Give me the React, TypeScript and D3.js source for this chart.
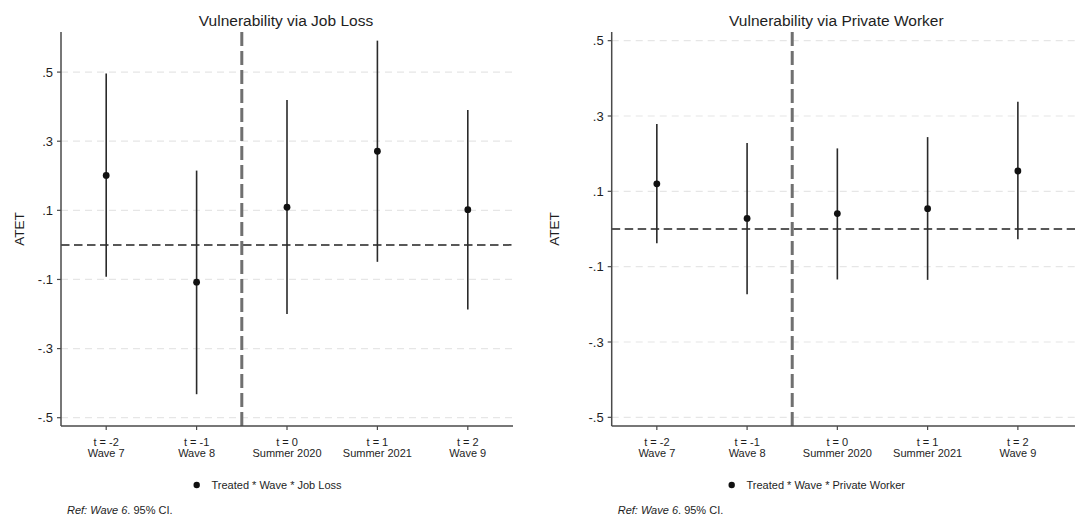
import React from "react";
import * as d3 from "d3";

// Event-study estimates (ATET) with 95% confidence intervals
const periods = ["t = -2", "t = -1", "t = 0", "t = 1", "t = 2"];
const waves = ["Wave 7", "Wave 8", "Summer 2020", "Summer 2021", "Wave 9"];
const yTicks = [-0.5, -0.3, -0.1, 0.1, 0.3, 0.5];

const jobLossEst = [0.201, -0.108, 0.109, 0.271, 0.102];
const jobLossLo = [-0.092, -0.432, -0.2, -0.049, -0.187];
const jobLossHi = [0.496, 0.215, 0.419, 0.591, 0.39];

const privateEst = [0.12, 0.028, 0.041, 0.054, 0.154];
const privateLo = [-0.038, -0.173, -0.134, -0.135, -0.027];
const privateHi = [0.279, 0.228, 0.214, 0.244, 0.338];

type Panel = {
  title: string;
  legend: string;
  est: number[];
  lo: number[];
  hi: number[];
  yDomain: [number, number];
  left: number; // y-axis position
  right: number; // end of 5.5 on the x scale
  lineEnd: number; // where the axis/grid lines stop
  offset: number;
};

const panels: Panel[] = [
  {
    title: "Vulnerability via Job Loss",
    legend: "Treated * Wave * Job Loss",
    est: jobLossEst,
    lo: jobLossLo,
    hi: jobLossHi,
    yDomain: [-0.524, 0.616],
    left: 61,
    right: 513,
    lineEnd: 513,
    offset: 0,
  },
  {
    title: "Vulnerability via Private Worker",
    legend: "Treated * Wave * Private Worker",
    est: privateEst,
    lo: privateLo,
    hi: privateHi,
    yDomain: [-0.523, 0.523],
    left: 611.7,
    right: 1063,
    lineEnd: 1075,
    offset: 535,
  },
];

const TOP = 32;
const BOTTOM = 426;
const FONT = "'Liberation Sans', Arial, sans-serif";
// Stata-style tick labels: no leading zero, ASCII hyphen for negatives
const fmt = (v: number) => {
  const body = Math.abs(v).toFixed(1).replace(/^0\./, ".");
  return (v < 0 ? "-" : "") + body;
};

function ChartPanel({ p }: { p: Panel }) {
  const x = d3.scaleLinear().domain([0.5, 5.5]).range([p.left, p.right]);
  const y = d3.scaleLinear().domain(p.yDomain).range([BOTTOM, TOP]);
  const cx = (p.left + p.right) / 2 - 1;
  return (
    <g fontFamily={FONT}>
      <text x={cx} y={26} textAnchor="middle" fontSize={15.5} fill="#1e1e1e">
        {p.title}
      </text>
      {/* grid */}
      {yTicks.map((t) => (
        <line
          key={"g" + t}
          x1={p.left}
          x2={p.lineEnd}
          y1={y(t)}
          y2={y(t)}
          stroke="#e6e6e6"
          strokeWidth={1.2}
          strokeDasharray="7,5"
        />
      ))}
      {/* reference lines */}
      <line
        x1={p.left}
        x2={p.lineEnd}
        y1={y(0)}
        y2={y(0)}
        stroke="#222"
        strokeWidth={1.5}
        strokeDasharray="8.5,4.5"
      />
      <line
        x1={x(2.5)}
        x2={x(2.5)}
        y1={TOP}
        y2={BOTTOM}
        stroke="#707070"
        strokeWidth={3}
        strokeDasharray="14,5"
      />
      {/* confidence intervals and point estimates */}
      {p.est.map((v, i) => (
        <g key={"m" + i}>
          <line
            x1={x(i + 1)}
            x2={x(i + 1)}
            y1={y(p.lo[i])}
            y2={y(p.hi[i])}
            stroke="#2a2a2a"
            strokeWidth={1.6}
          />
          <circle cx={x(i + 1)} cy={y(v)} r={3.4} fill="#111" />
        </g>
      ))}
      {/* axes */}
      <line x1={p.left} x2={p.left} y1={TOP} y2={BOTTOM} stroke="#4a4a4a" strokeWidth={1.5} />
      <line x1={p.left} x2={p.lineEnd} y1={BOTTOM} y2={BOTTOM} stroke="#4a4a4a" strokeWidth={1.5} />
      {yTicks.map((t) => (
        <g key={"yt" + t}>
          <line x1={p.left - 4} x2={p.left} y1={y(t)} y2={y(t)} stroke="#4a4a4a" strokeWidth={1.2} />
          <text
            x={p.left - 8}
            y={y(t)}
            dy="0.35em"
            textAnchor="end"
            fontSize={13}
            fill="#1e1e1e"
          >
            {fmt(t)}
          </text>
        </g>
      ))}
      <text
        transform={`translate(${p.offset + 24},${(TOP + BOTTOM) / 2}) rotate(-90)`}
        textAnchor="middle"
        fontSize={13.5}
        fill="#1e1e1e"
      >
        ATET
      </text>
      {periods.map((lab, i) => (
        <g key={"xt" + i}>
          <line
            x1={x(i + 1)}
            x2={x(i + 1)}
            y1={BOTTOM}
            y2={BOTTOM + 4}
            stroke="#4a4a4a"
            strokeWidth={1.2}
          />
          <text x={x(i + 1)} y={445.5} textAnchor="middle" fontSize={11} fill="#1e1e1e">
            {lab}
          </text>
          <text x={x(i + 1)} y={456.5} textAnchor="middle" fontSize={11} fill="#1e1e1e">
            {waves[i]}
          </text>
        </g>
      ))}
      {/* legend */}
      <circle cx={p.offset + 196.7} cy={485} r={3.2} fill="#111" />
      <text x={p.offset + 211.5} y={489} fontSize={11} fill="#1e1e1e">
        {p.legend}
      </text>
      {/* note */}
      <text x={p.left + 6} y={514} fontSize={11} fill="#1e1e1e">
        <tspan fontStyle="italic">Ref: Wave 6</tspan>
        <tspan>. 95% CI.</tspan>
      </text>
    </g>
  );
}

export default function App() {
  return (
    <svg
      width={1075}
      height={516}
      style={{ position: "absolute", left: 0, top: 0, background: "#fff" }}
    >
      <rect width={1075} height={516} fill="#fff" />
      {panels.map((p) => (
        <ChartPanel key={p.title} p={p} />
      ))}
    </svg>
  );
}
